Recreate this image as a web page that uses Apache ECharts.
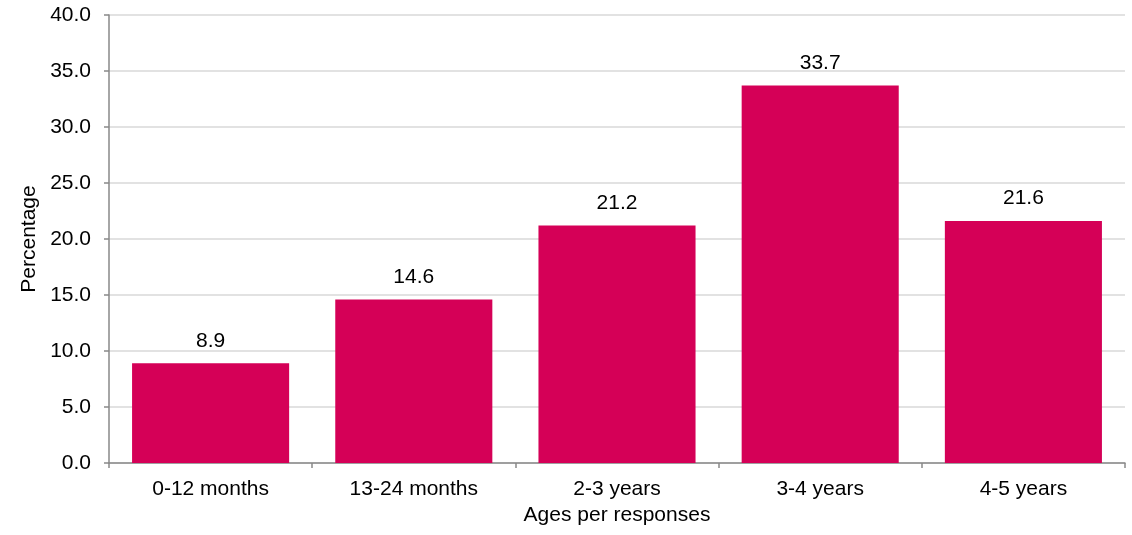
<!DOCTYPE html>
<html>
<head>
<meta charset="utf-8">
<script src="https://cdn.jsdelivr.net/npm/echarts@6/dist/echarts.min.js"></script>
<style>
html,body{margin:0;padding:0;background:#fff;}
#chart{width:1132px;height:535px;}
</style>
</head>
<body>
<div id="chart"></div>
<script>
const categories = ['0-12 months', '13-24 months', '2-3 years', '3-4 years', '4-5 years'];
const percentages = [8.9, 14.6, 21.2, 33.7, 21.6];
const yTicks = { min: 0, max: 40, interval: 5 };

const FONT = 'Liberation Sans';
const FS = 21;
const chart = echarts.init(document.getElementById('chart'), null, { renderer: 'canvas' });
chart.setOption({
  animation: false,
  backgroundColor: '#ffffff',
  grid: { left: 109, right: 7, top: 15, bottom: 72, containLabel: false },
  xAxis: {
    type: 'category',
    data: categories,
    name: 'Ages per responses',
    nameLocation: 'middle',
    nameGap: 40,
    nameTextStyle: { fontFamily: FONT, fontSize: FS, color: '#000' },
    axisLine: { show: true, lineStyle: { color: '#898989', width: 1.5 } },
    axisTick: { show: true, alignWithLabel: false, length: 5, lineStyle: { color: '#898989', width: 1.5 } },
    axisLabel: { fontFamily: FONT, fontSize: FS, color: '#000', margin: 16 },
    splitLine: { show: false }
  },
  yAxis: {
    type: 'value',
    min: yTicks.min,
    max: yTicks.max,
    interval: yTicks.interval,
    name: 'Percentage',
    nameLocation: 'middle',
    nameGap: 66,
    nameRotate: 90,
    nameTextStyle: { fontFamily: FONT, fontSize: FS, color: '#000' },
    axisLine: { show: true, lineStyle: { color: '#898989', width: 1.5 } },
    axisTick: { show: true, length: 5, lineStyle: { color: '#898989', width: 1.5 } },
    axisLabel: { fontFamily: FONT, fontSize: FS, color: '#000', margin: 18, formatter: v => v.toFixed(1) },
    splitLine: { show: true, lineStyle: { color: '#d9d9d9', width: 1.5 } }
  },
  series: [{
    type: 'bar',
    data: percentages,
    barCategoryGap: '22.7%',
    itemStyle: { color: '#d50057' },
    label: {
      show: true,
      position: 'top',
      distance: 12,
      fontFamily: FONT,
      fontSize: FS,
      color: '#000',
      formatter: p => p.value.toFixed(1)
    }
  }]
});
</script>
</body>
</html>
